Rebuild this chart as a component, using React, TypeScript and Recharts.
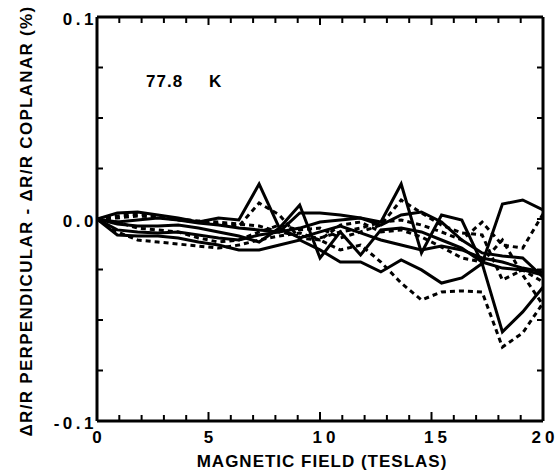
import React from 'react';
import { LineChart, Line, XAxis, YAxis } from 'recharts';

// Magnetic field values (teslas)
const fields = [0, 0.91, 1.82, 2.73, 3.64, 4.55, 5.45, 6.36, 7.27, 8.18, 9.09, 10, 10.91, 11.82, 12.73, 13.64, 14.55, 15.45, 16.36, 17.27, 18.18, 19.09, 20];

// ΔR/R perpendicular − ΔR/R coplanar (%) for each sample
const s1 = [0, 0.003, 0.0035, 0.002, 0.0005, -0.0015, 0.0005, -0.0005, 0.0173, -0.0045, -0.0094, -0.0064, -0.0035, -0.0069, -0.0104, -0.0129, -0.0153, -0.0134, -0.0153, -0.0193, -0.0213, -0.0243, -0.0262];
const s2 = [0, -0.0054, -0.0064, -0.0069, -0.0064, -0.0079, -0.0094, -0.0104, -0.0079, -0.0064, 0.003, 0.003, 0.002, 0.0005, -0.0015, 0.0173, -0.0168, 0.002, -0.0005, -0.022, 0.0074, 0.0094, 0.0045];
const s3 = [0, -0.0015, -0.0005, 0.0005, -0.0005, -0.002, -0.003, -0.0045, -0.0054, -0.0064, -0.0045, -0.0015, -0.0005, 0.0005, -0.003, 0.002, 0.0035, -0.0015, -0.0104, -0.0168, -0.0183, -0.0193, -0.0287];
const s4 = [0, -0.0079, -0.0084, -0.0084, -0.0094, -0.0114, -0.0129, -0.0153, -0.0153, -0.0129, -0.0104, -0.0153, -0.0213, -0.0213, -0.0262, -0.0203, -0.0252, -0.0317, -0.0292, -0.022, -0.0559, -0.046, -0.0337];
const s5 = [0, -0.0025, -0.0035, -0.0035, -0.003, -0.0045, -0.0064, -0.0084, -0.0114, -0.0045, 0.0069, -0.0193, -0.0064, -0.0178, -0.0054, -0.0045, -0.0064, -0.0104, -0.0144, -0.0213, -0.0243, -0.0252, -0.0277];
const d1 = [0, 0.0005, 0.0015, 0.001, -0.0005, -0.0015, -0.0025, -0.0035, 0.0079, 0.002, -0.0094, -0.0104, -0.003, -0.0015, -0.0064, -0.0054, -0.0089, -0.0139, -0.0193, -0.0213, -0.0104, -0.0277, -0.0426];
const d2 = [0, -0.0064, -0.0104, -0.0114, -0.0124, -0.0134, -0.0144, -0.0129, -0.0104, -0.0084, -0.0069, -0.0104, -0.0153, -0.0129, -0.0213, -0.0317, -0.0401, -0.0361, -0.0356, -0.0361, -0.0634, -0.0564, -0.0416];
const d3 = [0, -0.0015, -0.0045, -0.0054, -0.0064, -0.0094, -0.0114, -0.0104, -0.0064, -0.003, -0.0054, -0.0045, -0.0094, -0.0064, -0.003, 0.0094, 0.003, -0.003, -0.0069, -0.0079, -0.0302, -0.0252, -0.0312];
const d4 = [0, 0.0015, 0.0025, 0.0015, 0, -0.001, -0.0015, -0.0025, -0.0035, -0.0064, -0.0084, -0.0094, -0.0064, -0.0045, -0.0015, -0.0005, -0.003, -0.0064, -0.0104, -0.0015, -0.0129, -0.0144, 0.0025];

const solidSeries = { s1, s2, s3, s4, s5 };
const dashedSeries = { d1, d2, d3, d4 };

const xTicks = [0, 1, 2, 3, 4, 5, 6, 7, 8, 9, 10, 11, 12, 13, 14, 15, 16, 17, 18, 19, 20];
const yTicks = [-0.1, -0.075, -0.05, -0.025, 0, 0.025, 0.05, 0.075, 0.1];
const xLabelled = [0, 5, 10, 15, 20];
const yLabelled = [-0.1, 0, 0.1];

const temperatureLabel = '77.8';
const temperatureUnit = 'K';
const xTitle = 'MAGNETIC FIELD (TESLAS)';
const yTitle = 'ΔR/R PERPENDICULAR - ΔR/R COPLANAR (%)';

const data = fields.map((f, i) => {
  const row: Record<string, number> = { field: f };
  Object.entries(solidSeries).forEach(([k, v]) => (row[k] = v[i]));
  Object.entries(dashedSeries).forEach(([k, v]) => (row[k] = v[i]));
  return row;
});

const FONT = '"Liberation Sans", Arial, Helvetica, sans-serif';

const isLabelled = (v: number, list: number[]) => list.some((l) => Math.abs(l - v) < 1e-9);

const BottomTick = (props: any) => {
  const { x, y, payload } = props;
  const v = payload.value;
  const major = isLabelled(v, xLabelled);
  return (
    <g>
      <line x1={x} y1={y} x2={x} y2={y - (major ? 9 : 6)} stroke="#000" strokeWidth={2} />
      {major && (
        <text x={x + (v >= 10 && v < 20 ? 6 : 2)} y={y + 22} textAnchor="middle" fontFamily={FONT} fontWeight="bold" fontSize={17} letterSpacing={4} fill="#000">
          {String(v)}
        </text>
      )}
    </g>
  );
};

const TopTick = (props: any) => {
  const { x, y, payload } = props;
  const major = isLabelled(payload.value, xLabelled);
  return <line x1={x} y1={y} x2={x} y2={y + (major ? 8 : 6)} stroke="#000" strokeWidth={2} />;
};

const LeftTick = (props: any) => {
  const { x, y, payload } = props;
  const v = payload.value;
  const lab = isLabelled(v, yLabelled);
  return (
    <g>
      <line x1={x} y1={y} x2={x + 6} y2={y} stroke="#000" strokeWidth={2} />
      {lab && (
        <text x={x} y={y + 8} textAnchor="end" fontFamily={FONT} fontWeight="bold" fontSize={17} letterSpacing={3.5} fill="#000">
          {v.toFixed(1)}
        </text>
      )}
    </g>
  );
};

const RightTick = (props: any) => {
  const { x, y } = props;
  return <line x1={x} y1={y} x2={x - 6} y2={y} stroke="#000" strokeWidth={2} />;
};

export default function App() {
  const axisLine = { stroke: '#000', strokeWidth: 3 };
  return (
    <div style={{ position: 'absolute', left: 0, top: 0, width: 559, height: 473, overflow: 'hidden', background: '#fff' }}>
      <LineChart width={559} height={473} data={data} margin={{ top: 0, right: 0, bottom: 0, left: 0 }}>
        <XAxis
          dataKey="field"
          type="number"
          domain={[0, 20]}
          ticks={xTicks}
          interval={0}
          height={52}
          axisLine={axisLine}
          tickLine={false}
          tickSize={0}
          tickMargin={0}
          tick={<BottomTick />}
          allowDataOverflow
        />
        <XAxis
          xAxisId="top"
          orientation="top"
          dataKey="field"
          type="number"
          domain={[0, 20]}
          ticks={xTicks}
          interval={0}
          height={17}
          axisLine={axisLine}
          tickLine={false}
          tickSize={0}
          tickMargin={0}
          tick={<TopTick />}
          allowDataOverflow
        />
        <YAxis
          type="number"
          domain={[-0.1, 0.1]}
          ticks={yTicks}
          interval={0}
          width={97}
          axisLine={axisLine}
          tickLine={false}
          tickSize={0}
          tickMargin={0}
          tick={<LeftTick />}
          allowDataOverflow
        />
        <YAxis
          yAxisId="right"
          orientation="right"
          type="number"
          domain={[-0.1, 0.1]}
          ticks={yTicks}
          interval={0}
          width={16}
          axisLine={axisLine}
          tickLine={false}
          tickSize={0}
          tickMargin={0}
          tick={<RightTick />}
          allowDataOverflow
        />
        {Object.keys(solidSeries).map((k) => (
          <Line key={k} dataKey={k} stroke="#000" strokeWidth={3} dot={false} isAnimationActive={false} type="linear" />
        ))}
        {Object.keys(dashedSeries).map((k) => (
          <Line key={k} dataKey={k} stroke="#000" strokeWidth={3} strokeDasharray="5 4" dot={false} isAnimationActive={false} type="linear" />
        ))}
        <text x={146} y={87} fontFamily={FONT} fontWeight="bold" fontSize={17} letterSpacing={1} fill="#000">
          {temperatureLabel}
        </text>
        <text x={209} y={87} fontFamily={FONT} fontWeight="bold" fontSize={17} fill="#000">
          {temperatureUnit}
        </text>
        <text x={322} y={467} textAnchor="middle" fontFamily={FONT} fontWeight="bold" fontSize={17} letterSpacing={1} fill="#000">
          {xTitle}
        </text>
        <text x={32} y={221} textAnchor="middle" transform="rotate(-90 32 221)" fontFamily={FONT} fontWeight="bold" fontSize={17} letterSpacing={1.3} fill="#000">
          {yTitle}
        </text>
      </LineChart>
    </div>
  );
}
